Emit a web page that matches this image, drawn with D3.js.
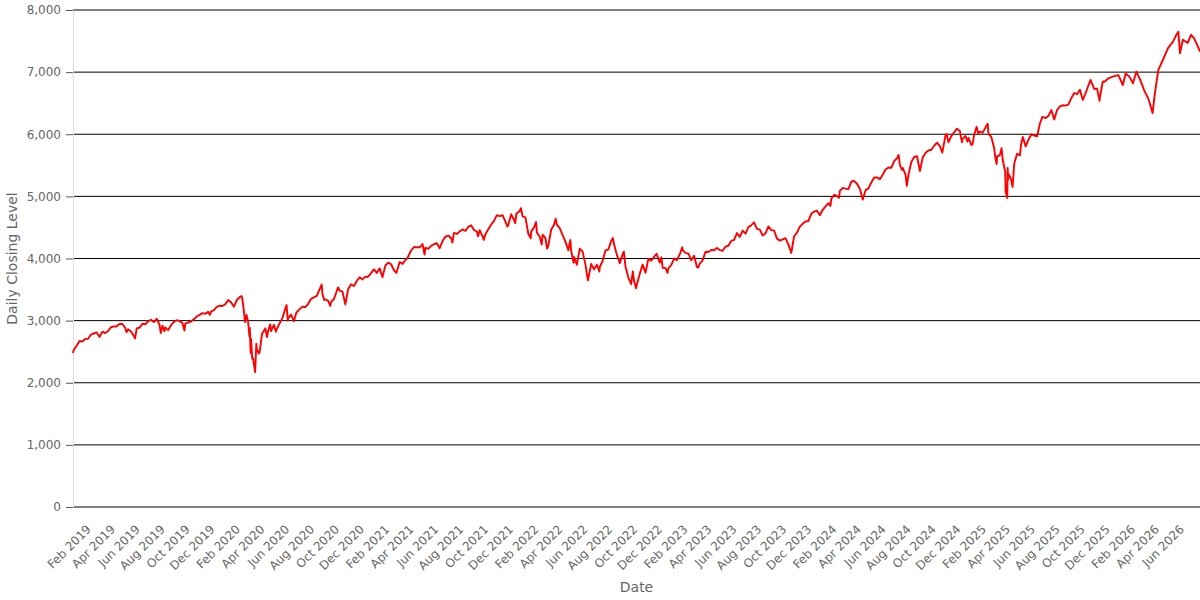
<!DOCTYPE html>
<html><head><meta charset="utf-8">
<script src="https://cdn.jsdelivr.net/npm/d3@7"></script>
<style>body{margin:0;background:#fff}svg{display:block;font-family:"DejaVu Sans",sans-serif}</style>
</head><body>
<svg id="chart" width="1200" height="600"></svg>
<script>
const close2019 = [["01-02",2480],["01-04",2532],["01-11",2596],["01-18",2671],["01-25",2665],["02-01",2707],["02-08",2708],["02-15",2776],["02-22",2793],["03-01",2810],["03-08",2738],["03-15",2822],["03-22",2800],["03-29",2834],["04-05",2893],["04-12",2907],["04-18",2905],["04-26",2945],["05-03",2946],["05-10",2881],["05-13",2812],["05-17",2860],["05-24",2826],["05-31",2752],["06-03",2715],["06-07",2873],["06-14",2887],["06-21",2950],["06-28",2942],["07-05",2990],["07-12",3014],["07-19",2977],["07-26",3030],["08-02",2932],["08-05",2800],["08-09",2919],["08-14",2830],["08-16",2889],["08-23",2847],["08-30",2926],["09-06",2979],["09-13",3007],["09-20",2992],["09-27",2962],["10-02",2840],["10-04",2952],["10-11",2970],["10-18",2986],["10-25",3023],["11-01",3067],["11-08",3093],["11-15",3120],["11-22",3110],["11-29",3141],["12-03",3093],["12-06",3146],["12-13",3169],["12-20",3221],["12-27",3240]];
const close2020 = [["01-03",3235],["01-10",3265],["01-17",3330],["01-24",3295],["01-31",3225],["02-07",3328],["02-14",3380],["02-19",3395],["02-21",3338],["02-25",3128],["02-27",2979],["03-02",3090],["03-06",2972],["03-09",2747],["03-10",2882],["03-12",2481],["03-13",2711],["03-16",2386],["03-18",2398],["03-20",2305],["03-23",2170],["03-26",2630],["03-27",2541],["04-01",2471],["04-03",2489],["04-09",2790],["04-17",2875],["04-21",2737],["04-24",2837],["04-29",2939],["05-01",2831],["05-08",2930],["05-13",2820],["05-15",2864],["05-22",2955],["05-29",3044],["06-05",3194],["06-08",3250],["06-11",3002],["06-12",3041],["06-19",3098],["06-26",2990],["07-02",3130],["07-10",3185],["07-17",3225],["07-24",3216],["07-31",3271],["08-07",3351],["08-14",3373],["08-21",3397],["08-28",3508],["09-02",3580],["09-04",3427],["09-08",3332],["09-11",3341],["09-18",3319],["09-23",3237],["09-25",3298],["10-02",3348],["10-09",3477],["10-12",3535],["10-16",3484],["10-23",3465],["10-30",3260],["11-06",3510],["11-13",3585],["11-20",3558],["11-27",3638],["12-04",3699],["12-11",3663],["12-18",3709],["12-24",3703],["12-31",3756]];
const close2021 = [["01-08",3825],["01-15",3768],["01-22",3841],["01-29",3700],["02-05",3887],["02-12",3934],["02-19",3907],["02-26",3811],["03-04",3768],["03-12",3943],["03-19",3913],["03-26",3975],["04-01",4020],["04-09",4129],["04-16",4185],["04-23",4180],["04-30",4181],["05-07",4233],["05-12",4063],["05-14",4174],["05-21",4156],["05-28",4204],["06-04",4230],["06-11",4247],["06-18",4166],["06-25",4281],["07-02",4352],["07-09",4370],["07-16",4327],["07-19",4258],["07-23",4412],["07-30",4395],["08-06",4437],["08-13",4468],["08-20",4442],["08-27",4509],["09-03",4535],["09-10",4459],["09-17",4433],["09-20",4358],["09-24",4455],["10-01",4357],["10-04",4300],["10-08",4391],["10-15",4471],["10-22",4545],["10-29",4605],["11-05",4697],["11-12",4682],["11-19",4698],["11-26",4595],["12-01",4513],["12-03",4538],["12-10",4712],["12-17",4620],["12-20",4568],["12-23",4726],["12-31",4766]];
const close2022 = [["01-03",4810],["01-07",4677],["01-14",4663],["01-21",4398],["01-27",4327],["01-28",4432],["02-04",4501],["02-09",4587],["02-11",4419],["02-18",4349],["02-23",4226],["02-25",4385],["03-04",4329],["03-08",4160],["03-11",4204],["03-18",4463],["03-25",4543],["03-29",4640],["04-01",4546],["04-08",4488],["04-14",4393],["04-22",4272],["04-29",4132],["05-04",4300],["05-06",4123],["05-12",3930],["05-13",4024],["05-20",3901],["05-27",4158],["06-03",4109],["06-10",3901],["06-16",3650],["06-17",3675],["06-24",3912],["07-01",3825],["07-08",3899],["07-14",3790],["07-15",3863],["07-22",3962],["07-29",4130],["08-05",4145],["08-12",4280],["08-16",4330],["08-19",4228],["08-26",4058],["09-02",3924],["09-09",4067],["09-12",4110],["09-16",3873],["09-23",3693],["09-30",3586],["10-04",3791],["10-07",3640],["10-12",3520],["10-14",3583],["10-21",3753],["10-28",3901],["11-04",3771],["11-11",3993],["11-18",3965],["11-25",4026],["12-01",4076],["12-09",3934],["12-13",4019],["12-16",3852],["12-23",3845],["12-28",3770],["12-30",3840]];
const close2023 = [["01-06",3895],["01-13",3999],["01-20",3973],["01-27",4071],["02-02",4180],["02-03",4136],["02-10",4090],["02-17",4079],["02-24",3970],["03-03",4046],["03-10",3862],["03-13",3855],["03-17",3917],["03-24",3971],["03-31",4109],["04-07",4105],["04-14",4138],["04-21",4133],["04-28",4169],["05-05",4136],["05-12",4124],["05-19",4192],["05-26",4205],["06-02",4282],["06-09",4299],["06-16",4410],["06-23",4348],["06-30",4450],["07-07",4399],["07-14",4505],["07-21",4536],["07-28",4582],["08-04",4478],["08-11",4464],["08-18",4370],["08-25",4406],["09-01",4516],["09-08",4457],["09-15",4450],["09-22",4320],["09-29",4288],["10-06",4309],["10-13",4327],["10-20",4224],["10-27",4090],["11-03",4358],["11-10",4415],["11-17",4514],["11-24",4559],["12-01",4595],["12-08",4604],["12-15",4719],["12-22",4755],["12-29",4770]];
const close2024 = [["01-05",4697],["01-12",4784],["01-19",4840],["01-26",4891],["01-31",4846],["02-02",4959],["02-09",5027],["02-16",5006],["02-21",4976],["02-23",5089],["03-01",5137],["03-08",5124],["03-15",5117],["03-22",5234],["03-28",5254],["04-05",5204],["04-12",5123],["04-19",4950],["04-26",5100],["05-03",5128],["05-10",5223],["05-17",5303],["05-24",5305],["05-31",5278],["06-07",5347],["06-14",5432],["06-21",5465],["06-28",5460],["07-05",5567],["07-12",5615],["07-16",5667],["07-19",5505],["07-24",5427],["07-26",5459],["08-02",5346],["08-05",5170],["08-09",5344],["08-16",5554],["08-23",5634],["08-30",5648],["09-06",5408],["09-13",5626],["09-20",5703],["09-27",5738],["10-04",5751],["10-11",5815],["10-18",5864],["10-25",5808],["10-31",5705],["11-08",5995],["11-11",6001],["11-15",5870],["11-22",5969],["11-29",6032],["12-06",6090],["12-13",6051],["12-18",5872],["12-20",5930],["12-27",5971],["12-31",5882]];
const close2025 = [["01-03",5942],["01-10",5827],["01-13",5836],["01-17",5997],["01-23",6119],["01-27",6012],["01-31",6041],["02-07",6026],["02-14",6115],["02-19",6170],["02-21",6013],["02-28",5955],["03-07",5770],["03-10",5615],["03-13",5522],["03-14",5639],["03-21",5668],["03-25",5777],["03-28",5581],["04-03",5397],["04-04",5074],["04-08",4975],["04-09",5457],["04-10",5268],["04-11",5363],["04-17",5283],["04-21",5150],["04-25",5525],["05-02",5687],["05-09",5660],["05-12",5844],["05-16",5958],["05-23",5803],["05-30",5912],["06-06",6000],["06-13",5977],["06-20",5968],["06-27",6173],["07-03",6279],["07-11",6260],["07-18",6297],["07-25",6389],["08-01",6238],["08-08",6389],["08-15",6450],["08-22",6467],["08-29",6460],["09-05",6482],["09-12",6584],["09-19",6664],["09-26",6644],["10-03",6716],["10-10",6553],["10-17",6664],["10-24",6792],["10-29",6875],["10-31",6840],["11-07",6729],["11-14",6734],["11-20",6538],["11-21",6603],["11-28",6849],["12-02",6846],["12-12",6900],["12-22",6927]];
const close2026 = [["01-05",6953],["01-16",6793],["01-23",6980],["02-01",6927],["02-10",6820],["02-18",7007],["02-26",6900],["03-06",6766],["03-09",6710],["03-19",6580],["03-23",6500],["03-30",6340],["04-03",6580],["04-08",6820],["04-13",7035],["04-24",7195],["05-07",7390],["05-19",7490],["05-27",7600],["06-01",7650],["06-05",7305],["06-12",7520],["06-24",7470],["07-02",7600],["07-09",7550],["07-17",7440],["07-24",7330]];

const yTickValues = [0,1000,2000,3000,4000,5000,6000,7000,8000];
const xTickFormat = "%b %Y";
const yTitle = "Daily Closing Level";
const xTitle = "Date";

const years = [[2019,close2019],[2020,close2020],[2021,close2021],[2022,close2022],[2023,close2023],[2024,close2024],[2025,close2025],[2026,close2026]];
const parse = d3.timeParse("%Y-%m-%d");
const data = [];
years.forEach(([yr, rows]) => rows.forEach(([md, v]) => data.push({date: parse(yr + "-" + md), value: v})));

const W = 1200, H = 600;
const margin = {top: 10, right: 0, bottom: 93, left: 73};
const svg = d3.select("#chart");

const x = d3.scaleTime().domain(d3.extent(data, d => d.date)).range([margin.left, W - margin.right]);
const y = d3.scaleLinear().domain([0, 8000]).range([H - margin.bottom, margin.top]);

// gridlines
svg.append("g").selectAll("line").data(yTickValues).join("line")
  .attr("x1", margin.left).attr("x2", W - margin.right)
  .attr("y1", d => y(d)).attr("y2", d => y(d))
  .attr("stroke", "#000").attr("stroke-width", 1);

// y axis
const yAxis = svg.append("g").attr("transform", `translate(${margin.left},0)`)
  .call(d3.axisLeft(y).tickValues(yTickValues).tickSize(7).tickPadding(5).tickFormat(d3.format(",")));
yAxis.select(".domain").attr("stroke", "#ddd");
yAxis.selectAll(".tick line").attr("stroke", "#555");
yAxis.selectAll("text").attr("fill", "#666").style("font-size", "12px").style("font-family", "DejaVu Sans");

// x axis
const xTicks = d3.timeMonth.range(new Date(2019, 1, 1), new Date(2026, 7, 1)).filter(d => d.getMonth() % 2 === 1);
const xAxis = svg.append("g").attr("transform", `translate(0,${H - margin.bottom})`)
  .call(d3.axisBottom(x).tickValues(xTicks).tickSize(0).tickFormat(d3.timeFormat(xTickFormat)));
xAxis.select(".domain").remove();
xAxis.selectAll("text")
  .attr("y", 0).attr("dy", 0)
  .attr("transform", "translate(6,23) rotate(-45)")
  .style("text-anchor", "end")
  .attr("fill", "#666").style("font-size", "12px").style("font-family", "DejaVu Sans");

// line
svg.append("path").datum(data)
  .attr("fill", "none").attr("stroke", "#ff0000").attr("stroke-width", 1.9)
  .attr("stroke-linejoin", "round")
  .attr("d", d3.line().x(d => x(d.date)).y(d => y(d.value)));

// titles
svg.append("text").attr("transform", `translate(17,${(margin.top + H - margin.bottom) / 2}) rotate(-90)`)
  .attr("text-anchor", "middle").attr("fill", "#666").style("font-size", "14px").text(yTitle);
svg.append("text").attr("x", (margin.left + W - margin.right) / 2).attr("y", 592)
  .attr("text-anchor", "middle").attr("fill", "#666").style("font-size", "14px").text(xTitle);
</script>
</body></html>
